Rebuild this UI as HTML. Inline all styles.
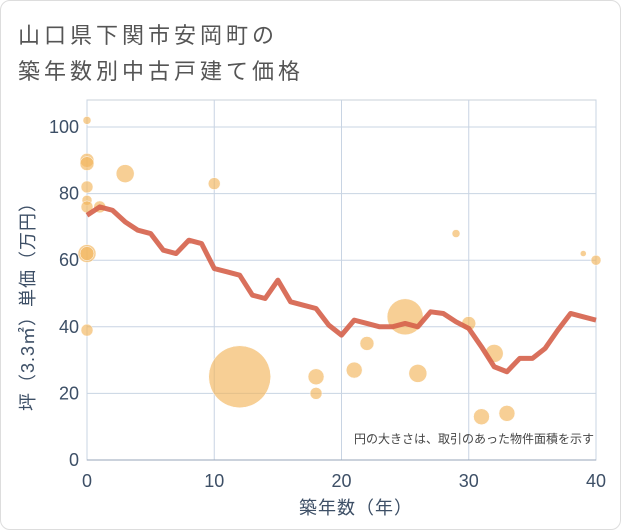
<!DOCTYPE html>
<html><head><meta charset="utf-8"><style>
body{margin:0;background:#fff;font-family:"Liberation Sans","Noto Sans CJK JP",sans-serif}
#card{position:absolute;left:0;top:0;width:619px;height:528px;border:1px solid #ddd;border-radius:10px;background:#fff}
.title{position:absolute;left:18px;font-size:22px;color:#555;letter-spacing:4px}
</style></head><body>
<div id="card"></div>
<div class="title" style="top:18px">山口県下関市安岡町の</div>
<div class="title" style="top:54px">築年数別中古戸建て価格</div>
<svg id="chart" width="621" height="530" style="position:absolute;left:0;top:0"></svg>
<script>
const years=[0,1,2,3,4,5,6,7,8,9,10,11,12,13,14,15,16,17,18,19,20,21,22,23,24,25,26,27,28,29,30,31,32,33,34,35,36,37,38,39,40];
const avgPrice=[73.5,76,75,71.5,69,68,63,62,66,65,57.5,56.5,55.5,49.5,48.5,54,47.5,46.5,45.5,40.5,37.5,42,41,40,40,41,40,44.5,44,41.5,39.5,34,28,26.5,30.5,30.5,33.5,39,44,43,42];
const bubbleX=[0,0,0,0,0,0,0,0,0,1,3,10,12,18,18,21,22,25,26,29,30,31,32,33,39,40];
const bubbleY=[102,90,89,82,78,76,62,62,39,76,86,83,25,25,20,27,35,43,26,68,41,13,32,14,62,60];
const bubbleR=[4,7,7,6,5,6,9,7,6,6,9,6,31,8,6,8,7,18,9,4,7,8,9,8,3,5];
const xTicks=[0,10,20,30,40];
const yTicks=[0,20,40,60,80,100];
const NS="http://www.w3.org/2000/svg";
const svg=document.getElementById('chart');
const X0=87,X1=596,Y0=460,YT=100;
const sx=v=>X0+(v-0)*(X1-X0)/40;
const sy=v=>Y0-v*3.33;
function mk(t,a,p){const e=document.createElementNS(NS,t);for(const k in a)e.setAttribute(k,a[k]);(p||svg).appendChild(e);return e;}
const frame=mk('rect',{x:X0,y:YT,width:X1-X0,height:Y0-YT,fill:'none',stroke:'#c8d0da','stroke-width':1});


xTicks.forEach(t=>{
 const g=mk('line',{x1:sx(t),x2:sx(t),y1:YT,y2:Y0,stroke:'#c8d4e3','stroke-width':1});
 
 
 const l=mk('text',{x:sx(t),y:Y0+27,'text-anchor':'middle','font-size':18,fill:'#3d4f66'});
 l.textContent=t;
 
 
});
yTicks.forEach(t=>{
 const g=mk('line',{x1:X0,x2:X1,y1:sy(t),y2:sy(t),stroke:'#c8d4e3','stroke-width':1});
 
 
 const l=mk('text',{x:X0-8,y:sy(t)+6,'text-anchor':'end','font-size':18,fill:'#3d4f66'});
 l.textContent=t;
 
 
});
mk('line',{x1:X0,x2:X1,y1:Y0,y2:Y0,stroke:'#2a3f5f','stroke-width':1,opacity:0.3});
bubbleX.forEach((x,i)=>{
 const c=mk('circle',{cx:sx(x),cy:sy(bubbleY[i]),r:bubbleR[i],fill:'#f2b65c','fill-opacity':0.65,stroke:'#fff','stroke-width':0.5});
 
 
});
const line=mk('polyline',{points:years.map((y,i)=>sx(y)+','+sy(avgPrice[i])).join(' '),fill:'none',stroke:'#d5604a','stroke-width':5,'stroke-linejoin':'round','stroke-opacity':0.9});


const note=mk('text',{x:594,y:443,'text-anchor':'end','font-size':12,fill:'#444'});
note.textContent='円の大きさは、取引のあった物件面積を示す';


const xt=mk('text',{x:356,y:514,'text-anchor':'middle','font-size':18,fill:'#3d4f66','letter-spacing':1});
xt.textContent='築年数（年）';


const yt=mk('text',{x:0,y:0,'text-anchor':'middle','font-size':18,fill:'#3d4f66','letter-spacing':1,transform:'translate(34,302) rotate(-90)'});
yt.textContent='坪（3.3㎡）単価（万円）';


</script>
</body></html>
